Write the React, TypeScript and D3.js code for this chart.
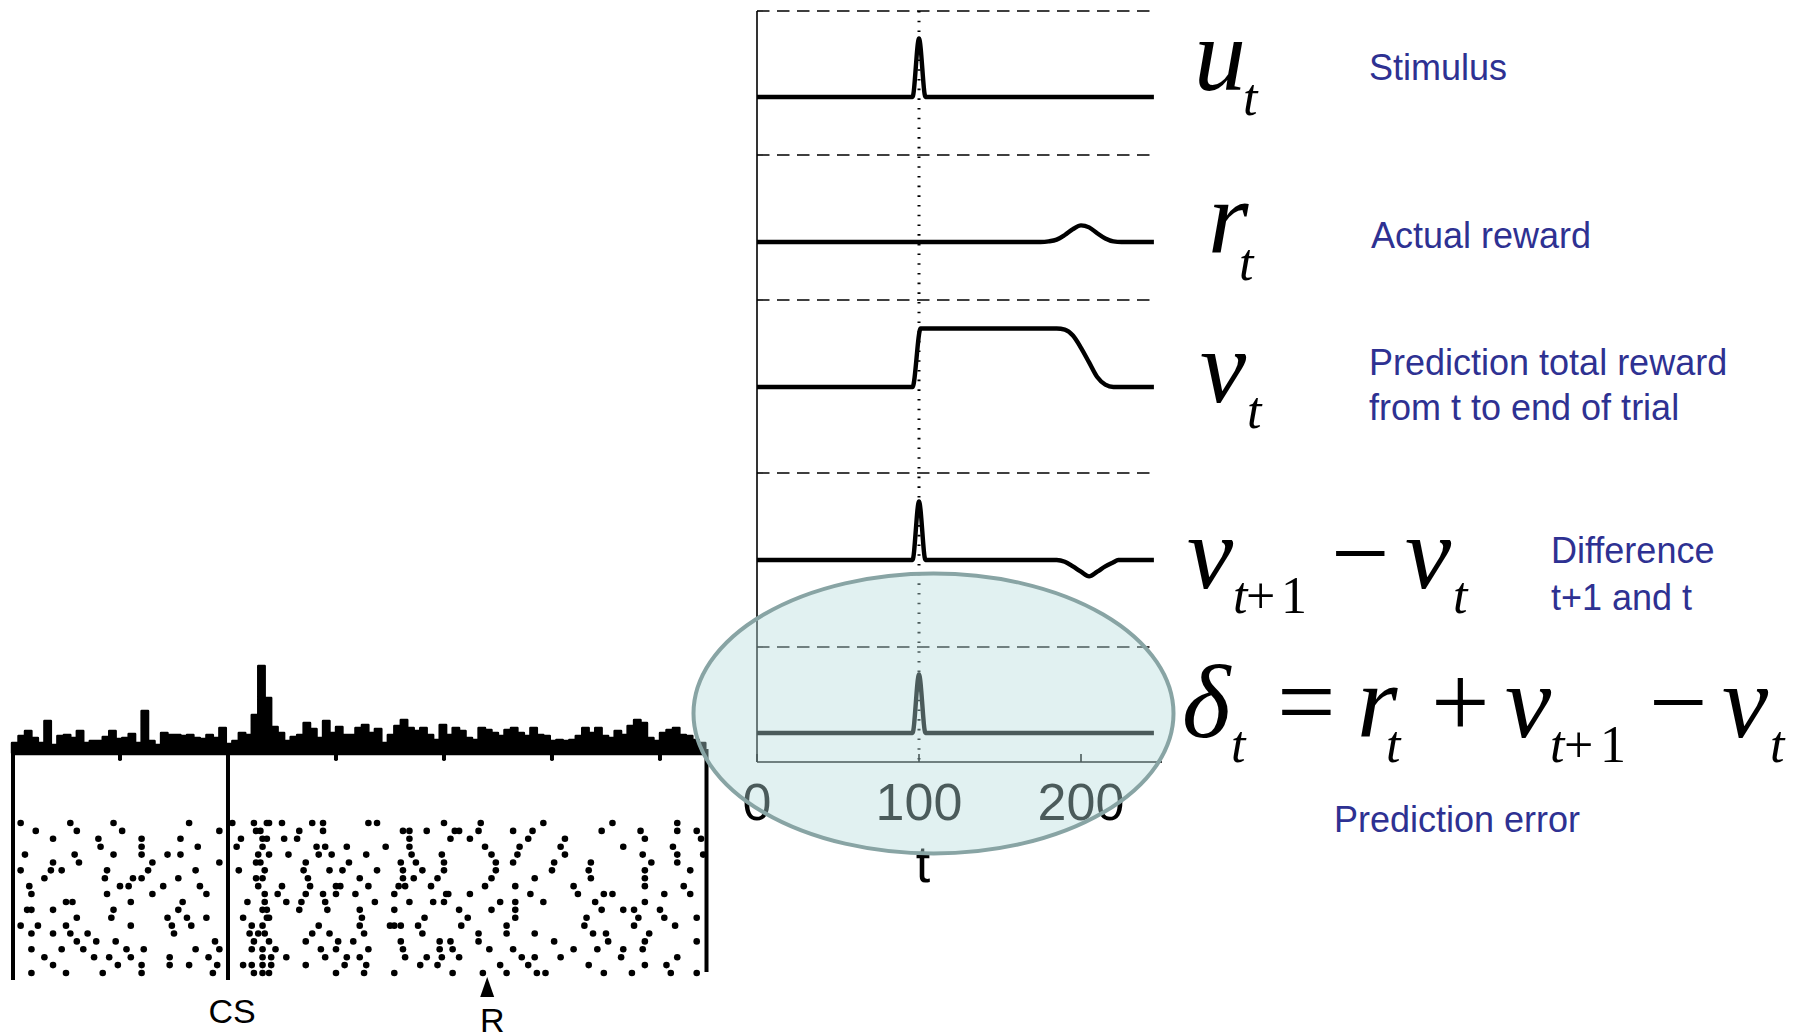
import React from 'react';
import * as d3 from 'd3';

// ---------------- Right panel: TD model traces ----------------
const stimulusT = [0, 96, 100, 104, 245];
const stimulusV = [0, 0, 1, 0, 0];
const rewardT = [0, 175, 180, 185, 190, 195, 200, 205, 210, 215, 220, 225, 245];
const rewardV = [0, 0, 0.01, 0.04, 0.12, 0.22, 0.285, 0.25, 0.15, 0.06, 0.01, 0, 0];
const valueT = [0, 96, 101, 180, 185, 190, 195, 200, 205, 210, 215, 220, 245];
const valueV = [0, 0, 1, 1, 1, 0.98, 0.88, 0.67, 0.42, 0.17, 0.04, 0, 0];
const diffT = [0, 96, 100, 104, 185, 190, 195, 200, 205, 210, 215, 220, 223, 245];
const diffV = [0, 0, 1, 0, 0, -0.03, -0.11, -0.2, -0.28, -0.2, -0.11, -0.04, 0, 0];
const deltaT = [0, 96, 100, 104, 245];
const deltaV = [0, 0, 1, 0, 0];
const timeTicks = [0, 100, 200];
const cueTime = 100;
const timeDomain = [0, 250];

// ---------------- Left panel: dopamine neuron PSTH + raster ----------------
const histStart = -1.0;
const histBin = 0.03;
const histCounts = [
  10, 17, 22, 15, 10, 32, 8, 17, 18, 15, 22, 10, 12, 12, 16, 22, 14, 15, 19, 10,
  42, 12, 8, 20, 18, 18, 17, 18, 15, 14, 18, 15, 25, 9, 12, 20, 18, 38, 87, 55,
  26, 20, 12, 16, 18, 30, 24, 15, 32, 20, 26, 18, 18, 25, 28, 20, 24, 10, 18, 27,
  33, 25, 22, 25, 18, 13, 28, 18, 25, 22, 15, 13, 25, 23, 20, 17, 23, 25, 20, 17,
  25, 18, 17, 12, 13, 12, 13, 17, 25, 20, 25, 17, 15, 22, 18, 27, 33, 30, 15, 12,
  20, 23, 25, 18, 17, 13, 10,
];
const rasterTicks = [-0.5, 0, 0.5, 1.0, 1.5, 2.0];
const csTime = 0;
const rewardTime = 1.2;
const rasterDomain = [-1.0, 2.22];
const rasterTrials = [
  [-0.96, -0.73, -0.53, -0.18, 0.02, 0.12, 0.18, 0.19, 0.25, 0.39, 0.44, 0.65, 0.69, 1.0, 1.17, 1.46, 1.78, 2.08],
  [-0.89, -0.7, -0.49, -0.04, 0.13, 0.15, 0.33, 0.44, 0.81, 0.84, 0.92, 1.05, 1.07, 1.16, 1.32, 1.41, 1.73, 1.91, 2.08, 2.17],
  [-0.81, -0.6, -0.4, -0.22, 0.06, 0.16, 0.18, 0.26, 0.32, 0.84, 1.03, 1.12, 1.39, 1.56, 1.93, 2.19],
  [-0.59, -0.4, -0.14, 0.04, 0.16, 0.41, 0.45, 0.55, 0.73, 0.84, 1.19, 1.35, 1.54, 1.83, 2.06],
  [-0.94, -0.71, -0.53, -0.4, -0.28, -0.22, 0.14, 0.19, 0.28, 0.42, 0.48, 0.64, 0.85, 0.99, 1.22, 1.34, 1.56, 1.92, 2.08, 2.2],
  [-0.81, -0.69, -0.35, -0.04, 0.13, 0.15, 0.36, 0.56, 0.8, 0.87, 1.0, 1.24, 1.32, 1.51, 1.68, 1.96, 2.08],
  [-0.96, -0.82, -0.77, -0.56, -0.37, -0.15, 0.05, 0.17, 0.35, 0.47, 0.53, 0.69, 0.81, 0.9, 1.0, 1.24, 1.5, 1.67, 1.93, 2.14],
  [-0.85, -0.57, -0.44, -0.4, -0.23, 0.13, 0.16, 0.37, 0.61, 0.81, 0.86, 0.97, 1.22, 1.42, 1.68, 1.93],
  [-0.92, -0.5, -0.46, -0.3, -0.13, 0.14, 0.25, 0.38, 0.5, 0.52, 0.65, 0.79, 0.82, 0.94, 1.19, 1.33, 1.6, 1.93, 2.11],
  [-0.91, -0.56, -0.35, -0.1, 0.17, 0.23, 0.36, 0.44, 0.5, 0.59, 0.77, 1.01, 1.02, 1.12, 1.4, 1.62, 1.74, 1.78, 2.02, 2.14],
  [-0.75, -0.72, -0.45, -0.21, 0.09, 0.17, 0.27, 0.34, 0.45, 0.68, 0.84, 0.95, 1.0, 1.26, 1.33, 1.46, 1.7, 1.93],
  [-0.93, -0.91, -0.81, -0.53, -0.23, 0.16, 0.18, 0.33, 0.46, 0.61, 0.77, 1.07, 1.22, 1.33, 1.73, 1.83, 1.88, 2.0],
  [-0.7, -0.54, -0.28, -0.19, -0.1, 0.07, 0.18, 0.19, 0.62, 0.91, 1.11, 1.33, 1.66, 1.9, 2.02, 2.17],
  [-0.96, -0.88, -0.75, -0.45, -0.26, -0.17, 0.11, 0.16, 0.42, 0.61, 0.75, 0.77, 0.8, 0.88, 1.08, 1.29, 1.65, 1.88, 2.07],
  [-0.91, -0.81, -0.73, -0.65, -0.25, 0.1, 0.14, 0.17, 0.39, 0.47, 0.63, 0.9, 1.16, 1.29, 1.42, 1.69, 1.75, 1.95],
  [-0.7, -0.61, -0.52, -0.06, 0.12, 0.19, 0.36, 0.51, 0.58, 0.8, 0.98, 1.03, 1.16, 1.51, 1.76, 1.93, 2.17],
  [-0.91, -0.77, -0.67, -0.47, -0.39, -0.15, -0.04, 0.11, 0.16, 0.22, 0.43, 0.5, 0.65, 0.81, 0.98, 1.04, 1.21, 1.32, 1.6, 1.71, 1.83, 1.92],
  [-0.85, -0.62, -0.55, -0.45, -0.27, -0.09, 0.16, 0.2, 0.27, 0.45, 0.55, 0.61, 0.82, 0.92, 0.99, 1.07, 1.36, 1.42, 1.54, 1.82, 2.08],
  [-0.81, -0.51, -0.4, -0.27, -0.18, -0.05, 0.07, 0.11, 0.16, 0.2, 0.36, 0.54, 0.64, 0.89, 0.97, 1.26, 1.39, 1.67, 1.93, 2.03],
  [-0.91, -0.75, -0.58, -0.4, -0.07, 0.12, 0.16, 0.19, 0.5, 0.63, 0.77, 1.04, 1.18, 1.29, 1.43, 1.47, 1.74, 1.87, 2.05, 2.17],
];

const BLUE = '#2e3192';
const SERIF = "'Liberation Serif', 'Times New Roman', serif";
const SANS = "'Liberation Sans', Arial, Helvetica, sans-serif";
const MAIN = 104;
const SUB = 52;

export default function App() {
  // ---- right chart scales ----
  const x = d3.scaleLinear().domain(timeDomain).range([757, 1162]);
  const unitPx = 58.5;
  const panels = [
    { t: stimulusT, v: stimulusV, top: 11, base: 97 },
    { t: rewardT, v: rewardV, top: 155, base: 242 },
    { t: valueT, v: valueV, top: 300, base: 387 },
    { t: diffT, v: diffV, top: 473, base: 560 },
    { t: deltaT, v: deltaV, top: 647, base: 733 },
  ];
  const axisBottom = 762;
  const axisTop = 11;

  // ---- left raster scales ----
  const rx = d3.scaleLinear().domain(rasterDomain).range([12, 707.5]);
  const histBase = 753;
  const hy = d3.scaleLinear().domain([0, 90]).range([histBase, 663]);
  const trialY = d3.scaleLinear().domain([0, rasterTrials.length - 1]).range([823, 973]);

  const histArea = d3
    .area<number>()
    .x((_, i) => rx(histStart + i * histBin))
    .y0(histBase)
    .y1((d) => hy(d))
    .curve(d3.curveStepAfter);
  const histData = [...histCounts, histCounts[histCounts.length - 1]];

  const g = (xx: number, yy: number, s: string, size: number, italic = true) => (
    <text x={xx} y={yy} fontFamily={SERIF} fontSize={size} fontStyle={italic ? 'italic' : 'normal'} fill="#000">
      {s}
    </text>
  );

  const blueText = (xx: number, yy: number, s: string) => (
    <text x={xx} y={yy} fontFamily={SANS} fontSize={36} fill={BLUE}>
      {s}
    </text>
  );

  return (
    <svg width={1807} height={1033} style={{ position: 'absolute', left: 0, top: 0, background: '#fff' }}>
      <rect x={0} y={0} width={1807} height={1033} fill="#fff" />

      {/* ================= LEFT: PSTH and raster ================= */}
      <g>
        <path d={histArea(histData) || ''} fill="#000" stroke="#000" strokeWidth={2.4} strokeLinejoin="round" />
        <line x1={rx(rasterDomain[0])} x2={rx(rasterDomain[1])} y1={histBase} y2={histBase} stroke="#000" strokeWidth={4.5} />
        {rasterTicks.map((t) => (
          <rect key={t} x={rx(t) - 2} y={histBase} width={4} height={8} fill="#000" rx={1.8} />
        ))}
        <line x1={rx(rasterDomain[0]) + 1} x2={rx(rasterDomain[0]) + 1} y1={histBase - 8} y2={980} stroke="#000" strokeWidth={4} />
        <line x1={rx(csTime)} x2={rx(csTime)} y1={histBase} y2={980} stroke="#000" strokeWidth={4} />
        <line x1={rx(rasterDomain[1]) - 1} x2={rx(rasterDomain[1]) - 1} y1={histBase - 4} y2={972} stroke="#000" strokeWidth={4} />
        {rasterTrials.map((row, i) =>
          row.map((t, j) => <circle key={`${i}-${j}`} cx={rx(t)} cy={trialY(i)} r={3.3} fill="#000" />)
        )}
        <path d={`M${rx(rewardTime)},977 L${rx(rewardTime) + 7},997 L${rx(rewardTime) - 7},997 Z`} fill="#000" />
        <text x={rx(csTime) + 4} y={1023} fontFamily={SANS} fontSize={34} textAnchor="middle" fill="#000">
          CS
        </text>
        <text x={rx(rewardTime) + 5} y={1032} fontFamily={SANS} fontSize={34} textAnchor="middle" fill="#000">
          R
        </text>
      </g>

      {/* ================= RIGHT: model traces ================= */}
      <g>
        {panels.map((p, i) => (
          <line key={`sep${i}`} x1={x(0)} x2={x(243)} y1={p.top} y2={p.top} stroke="#000" strokeWidth={1.6} strokeDasharray="12.5 7.5" />
        ))}
        <line x1={x(cueTime)} x2={x(cueTime)} y1={axisTop} y2={axisBottom} stroke="#000" strokeWidth={3} strokeDasharray="1.6 8.1" />
        {panels.map((p, i) => {
          const y = d3.scaleLinear().domain([0, 1]).range([p.base, p.base - unitPx]);
          const line = d3
            .line<number>()
            .x((_, k) => x(p.t[k]))
            .y((d) => y(d))
            .curve(d3.curveMonotoneX);
          return <path key={`tr${i}`} d={line(p.v) || ''} fill="none" stroke="#000" strokeWidth={4.4} strokeLinejoin="round" />;
        })}
        <line x1={x(0)} x2={x(0)} y1={axisTop} y2={axisBottom} stroke="#000" strokeWidth={1.6} />
        <line x1={x(0)} x2={x(timeDomain[1])} y1={axisBottom} y2={axisBottom} stroke="#000" strokeWidth={1.6} />
        {timeTicks.map((t) => (
          <g key={`tk${t}`}>
            <line x1={x(t)} x2={x(t)} y1={axisBottom} y2={axisBottom - 8} stroke="#000" strokeWidth={1.6} />
            <text x={x(t)} y={820} fontFamily={SANS} fontSize={52} textAnchor="middle" fill="#000">
              {t}
            </text>
          </g>
        ))}
        <text x={x(cueTime) + 4} y={882} fontFamily={SANS} fontSize={52} textAnchor="middle" fill="#000">
          t
        </text>
      </g>

      {/* ================= Highlight ellipse ================= */}
      <ellipse cx={933.5} cy={713.5} rx={240} ry={140} fill="rgb(181,222,222)" fillOpacity={0.41} stroke="#88a4a4" strokeWidth={4} />

      {/* ================= Math symbols ================= */}
      {g(1194, 90, 'u', MAIN)}
      {g(1243, 115, 't', SUB)}

      {g(1208, 253, 'r', MAIN)}
      {g(1239, 280, 't', SUB)}

      {g(1200, 402, 'v', MAIN)}
      {g(1247, 428, 't', SUB)}

      {g(1187, 588, 'v', MAIN)}
      {g(1233, 613, 't', SUB)}
      {g(1246, 613, '+', SUB, false)}
      {g(1281, 613, '1', SUB, false)}
      {g(1331, 588, '\u2212', MAIN, false)}
      {g(1405, 588, 'v', MAIN)}
      {g(1453, 613, 't', SUB)}

      {g(1182, 737, '\u03b4', MAIN)}
      {g(1231, 762, 't', SUB)}
      {g(1277, 737, '=', MAIN, false)}
      {g(1357, 737, 'r', MAIN)}
      {g(1386, 762, 't', SUB)}
      {g(1431, 737, '+', MAIN, false)}
      {g(1505, 737, 'v', MAIN)}
      {g(1550, 762, 't', SUB)}
      {g(1564, 762, '+', SUB, false)}
      {g(1600, 762, '1', SUB, false)}
      {g(1649, 737, '\u2212', MAIN, false)}
      {g(1722, 737, 'v', MAIN)}
      {g(1770, 762, 't', SUB)}

      {/* ================= Blue annotations ================= */}
      {blueText(1369, 80, 'Stimulus')}
      {blueText(1371, 248, 'Actual reward')}
      {blueText(1369, 375, 'Prediction total reward')}
      {blueText(1369, 420, 'from t to end of trial')}
      {blueText(1551, 563, 'Difference')}
      {blueText(1551, 610, 't+1 and t')}
      {blueText(1334, 832, 'Prediction error')}
    </svg>
  );
}
